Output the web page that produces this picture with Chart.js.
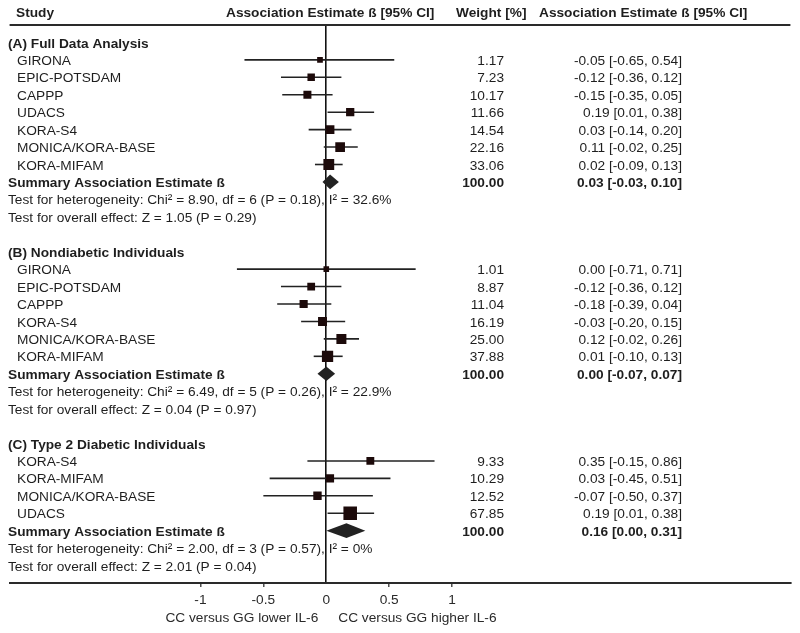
<!DOCTYPE html>
<html><head><meta charset="utf-8">
<script src="https://cdn.jsdelivr.net/npm/chart.js@4/dist/chart.umd.min.js"></script>
<style>html,body{margin:0;padding:0;background:#fff}</style>
</head><body>
<canvas id="c" width="800" height="633"></canvas>
<script>
// ---------- DATA ----------
const groupTitles = ['(A) Full Data Analysis', '(B) Nondiabetic Individuals', '(C) Type 2 Diabetic Individuals'];

const studiesA = ['GIRONA', 'EPIC-POTSDAM', 'CAPPP', 'UDACS', 'KORA-S4', 'MONICA/KORA-BASE', 'KORA-MIFAM'];
const estA    = [-0.05, -0.12, -0.15, 0.19, 0.03, 0.11, 0.02];
const lowA    = [-0.65, -0.36, -0.35, 0.01, -0.14, -0.02, -0.09];
const highA   = [0.54, 0.12, 0.05, 0.38, 0.20, 0.25, 0.13];
const weightA = [1.17, 7.23, 10.17, 11.66, 14.54, 22.16, 33.06];

const studiesB = ['GIRONA', 'EPIC-POTSDAM', 'CAPPP', 'KORA-S4', 'MONICA/KORA-BASE', 'KORA-MIFAM'];
const estB    = [0.00, -0.12, -0.18, -0.03, 0.12, 0.01];
const lowB    = [-0.71, -0.36, -0.39, -0.20, -0.02, -0.10];
const highB   = [0.71, 0.12, 0.04, 0.15, 0.26, 0.13];
const weightB = [1.01, 8.87, 11.04, 16.19, 25.00, 37.88];

const studiesC = ['KORA-S4', 'KORA-MIFAM', 'MONICA/KORA-BASE', 'UDACS'];
const estC    = [0.35, 0.03, -0.07, 0.19];
const lowC    = [-0.15, -0.45, -0.50, 0.01];
const highC   = [0.86, 0.51, 0.37, 0.38];
const weightC = [9.33, 10.29, 12.52, 67.85];

const summaryEst  = [0.03, 0.00, 0.16];
const summaryLow  = [-0.03, -0.07, 0.00];
const summaryHigh = [0.10, 0.07, 0.31];
const summaryWeight = [100.00, 100.00, 100.00];

const hetChi2 = ['8.90', '6.49', '2.00'];
const hetDf   = ['6', '5', '3'];
const hetP    = ['0.18', '0.26', '0.57'];
const hetI2   = ['32.6%', '22.9%', '0%'];
const overallZ = ['1.05', '0.04', '2.01'];
const overallP = ['0.29', '0.97', '0.04'];

const xTicks = [-1, -0.5, 0, 0.5, 1];
const xLabelLower = 'CC versus GG lower IL-6';
const xLabelHigher = 'CC versus GG higher IL-6';
const headers = ['Study', 'Association Estimate ß [95% CI]', 'Weight [%]', 'Association Estimate ß [95% CI]'];

// ---------- BUILD ROWS ----------
const groups = [
  {names: studiesA, est: estA, low: lowA, high: highA, w: weightA},
  {names: studiesB, est: estB, low: lowB, high: highB, w: weightB},
  {names: studiesC, est: estC, low: lowC, high: highC, w: weightC}
];
const rows = [];
let r = 0;
groups.forEach((g, gi) => {
  rows.push({type: 'title', row: r, text: groupTitles[gi]});
  r++;
  g.names.forEach((n, i) => {
    rows.push({type: 'study', row: r, name: n, est: g.est[i], low: g.low[i], high: g.high[i], w: g.w[i]});
    r++;
  });
  rows.push({type: 'summary', row: r, est: summaryEst[gi], low: summaryLow[gi], high: summaryHigh[gi], w: summaryWeight[gi]});
  r++;
  rows.push({type: 'text', row: r, text: 'Test for heterogeneity: Chi\u00B2 = ' + hetChi2[gi] + ', df = ' + hetDf[gi] + ' (P = ' + hetP[gi] + '), I\u00B2 = ' + hetI2[gi]});
  r++;
  rows.push({type: 'text', row: r, text: 'Test for overall effect: Z = ' + overallZ[gi] + ' (P = ' + overallP[gi] + ')'});
  r++;
  r++; // blank row
});
const lastRow = r - 1;

const studyRows = rows.filter(o => o.type === 'study');
const fmt = v => v.toFixed(2);
const ciText = o => fmt(o.est) + ' [' + fmt(o.low) + ', ' + fmt(o.high) + ']';

const FONT = '"Liberation Sans", Arial, Helvetica, sans-serif';
const FS = 13.7;
const TXT = '#1e1e1e';

// ---------- PLUGIN ----------
const forestPlugin = {
  id: 'forest',
  beforeDatasetsDraw(chart) {
    const {ctx, chartArea} = chart;
    const xs = chart.scales.x, ys = chart.scales.y;
    ctx.save();
    ctx.strokeStyle = '#2a2a2a';
    ctx.lineWidth = 2;
    ctx.beginPath();
    ctx.moveTo(chartArea.left, chartArea.top);
    ctx.lineTo(chartArea.right, chartArea.top);
    ctx.stroke();
    ctx.strokeStyle = '#222';
    ctx.lineWidth = 1.6;
    studyRows.forEach(o => {
      const y = ys.getPixelForValue(o.row);
      ctx.beginPath();
      ctx.moveTo(xs.getPixelForValue(o.low), y);
      ctx.lineTo(xs.getPixelForValue(o.high), y);
      ctx.stroke();
    });
    ctx.fillStyle = '#222';
    rows.filter(o => o.type === 'summary').forEach(o => {
      const y = ys.getPixelForValue(o.row);
      const h = ys.getPixelForValue(o.row + 0.42) - y;
      ctx.beginPath();
      ctx.moveTo(xs.getPixelForValue(o.low), y);
      ctx.lineTo(xs.getPixelForValue(o.est), y - h);
      ctx.lineTo(xs.getPixelForValue(o.high), y);
      ctx.lineTo(xs.getPixelForValue(o.est), y + h);
      ctx.closePath();
      ctx.fill();
    });
    ctx.restore();
  },
  afterDraw(chart) {
    const {ctx} = chart;
    const xs = chart.scales.x, ys = chart.scales.y;
    ctx.save();
    ctx.fillStyle = TXT;
    ctx.textBaseline = 'middle';
    ctx.font = 'bold ' + FS + 'px ' + FONT;
    ctx.textAlign = 'left';
    ctx.fillText(headers[0], 16, 13.5);
    ctx.fillText(headers[1], 226, 13.5);
    ctx.fillText(headers[2], 456, 13.5);
    ctx.fillText(headers[3], 539, 13.5);
    rows.forEach(o => {
      const y = ys.getPixelForValue(o.row) + 1.3;
      if (o.type === 'title') {
        ctx.font = 'bold ' + FS + 'px ' + FONT; ctx.textAlign = 'left';
        ctx.fillText(o.text, 8, y);
      } else if (o.type === 'study') {
        ctx.font = FS + 'px ' + FONT; ctx.textAlign = 'left';
        ctx.fillText(o.name, 17, y);
        ctx.textAlign = 'right';
        ctx.fillText(fmt(o.w), 504, y);
        ctx.fillText(ciText(o), 682, y);
      } else if (o.type === 'summary') {
        ctx.font = 'bold ' + FS + 'px ' + FONT; ctx.textAlign = 'left';
        ctx.fillText('Summary Association Estimate ß', 8, y);
        ctx.textAlign = 'right';
        ctx.fillText(fmt(o.w), 504, y);
        ctx.fillText(ciText(o), 682, y);
      } else if (o.type === 'text') {
        ctx.font = FS + 'px ' + FONT; ctx.textAlign = 'left';
        ctx.fillText(o.text, 8, y);
      }
    });
    const x0 = xs.getPixelForValue(0);
    ctx.font = FS + 'px ' + FONT;
    ctx.fillStyle = '#2a2a2a';
    ctx.textAlign = 'right';
    ctx.fillText(xLabelLower, x0 - 8, 618);
    ctx.textAlign = 'left';
    ctx.fillText(xLabelHigher, x0 + 12, 618);
    ctx.restore();
  }
};

// ---------- CHART ----------
const LEFT = 7, RIGHT = 793, ZERO_PX = 325.8, UNIT_PX = 126.7;
const xMin = (LEFT - ZERO_PX) / UNIT_PX;
const xMax = (RIGHT - ZERO_PX) / UNIT_PX;

new Chart(document.getElementById('c'), {
  type: 'scatter',
  data: {
    datasets: [{
      data: studyRows.map(o => ({x: o.est, y: o.row})),
      pointStyle: 'rect',
      pointRadius: studyRows.map(o => (4.5 + 1.1 * Math.sqrt(o.w)) / (2 * Math.SQRT1_2)),
      pointBorderWidth: 0,
      backgroundColor: '#1c0a0a',
      borderColor: '#1c0a0a'
    }]
  },
  options: {
    responsive: false,
    animation: false,
    devicePixelRatio: 1,
    layout: {padding: {left: LEFT, right: 800 - RIGHT, top: 25, bottom: 0}},
    plugins: {legend: {display: false}, tooltip: {enabled: false}},
    scales: {
      x: {
        type: 'linear', min: xMin, max: xMax,
        afterBuildTicks: s => { s.ticks = xTicks.map(v => ({value: v})); },
        afterFit: s => { s.height = 50; },
        border: {display: true, color: '#2a2a2a', width: 2},
        grid: {
          drawOnChartArea: true,
          color: c => (c.tick && c.tick.value === 0) ? '#111' : 'rgba(0,0,0,0)',
          lineWidth: 1.6,
          tickColor: c => (c.tick && c.tick.value === 0) ? 'rgba(0,0,0,0)' : '#333',
          tickLength: 4,
          tickWidth: 1.3
        },
        ticks: {
          autoSkip: false, maxRotation: 0, padding: 5,
          color: '#2a2a2a', font: {family: FONT, size: FS},
          callback: v => String(v)
        }
      },
      y: {type: 'linear', min: -1, max: lastRow, reverse: true, display: false}
    }
  },
  plugins: [forestPlugin]
});
</script>
</body></html>
